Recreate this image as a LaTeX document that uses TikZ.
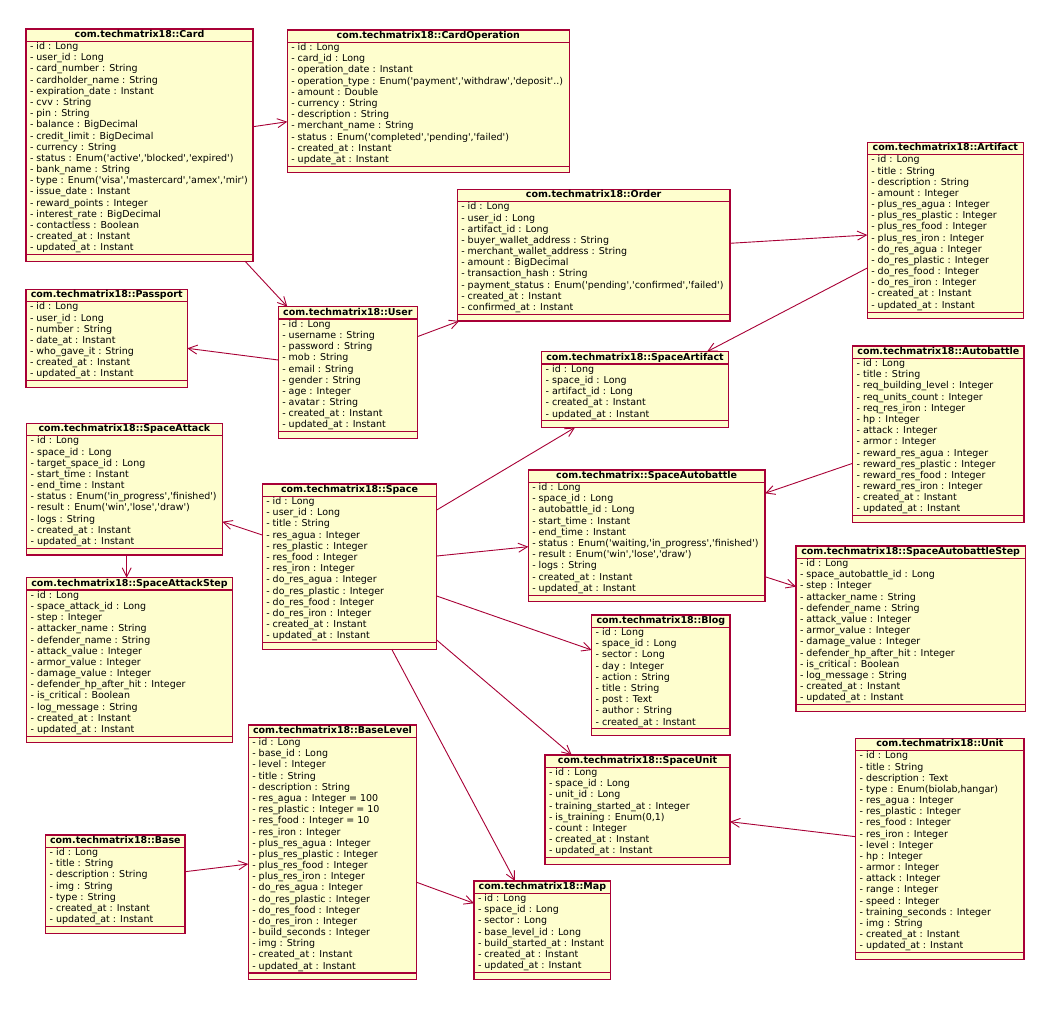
\documentclass[tikz,border=0pt]{standalone}
\usepackage{fontspec}
\setmainfont{DejaVu Sans}[Ligatures=TeXOff]
\usepackage{tikz}
\usetikzlibrary{arrows.meta,calc,shapes.multipart}

\definecolor{umlred}{HTML}{A80036}
\definecolor{umlfill}{HTML}{FEFECE}
\newcommand{\opsrow}{\rule{0pt}{5.5pt}}

\begin{document}
\begin{tikzpicture}[
      x=1pt, y=-1pt,
      umlclass/.style={rectangle split,rectangle split parts=3,rectangle split part align={center,left,left},
        draw=umlred,fill=umlfill,line width=1.1pt,anchor=north west,inner xsep=4pt,inner ysep=0pt,outer sep=0pt,
        align=left,font=\fontsize{9.5}{11.17}\selectfont},
      assoc/.style={draw=umlred,line width=0.9pt,-{Straight Barb[length=9pt,width=9pt]}}
    ]
    \fill[white] (0,0) rectangle (1058,1010);
    \useasboundingbox (0,0) rectangle (1058,1010);

    % classes
    \node[umlclass,minimum width=227pt] (card) at (26,29) {\strut\textbf{com.techmatrix18::Card}
      \nodepart{second}\strut- id : Long\\- user\_id : Long\\- card\_number : String\\- cardholder\_name : String\\
      - expiration\_date : Instant\\- cvv : String\\- pin : String\\- balance : BigDecimal\\
      - credit\_limit : BigDecimal\\- currency : String\\- status : Enum('active','blocked','expired')\\
      - bank\_name : String\\- type : Enum('visa','mastercard','amex','mir')\\- issue\_date : Instant\\
      - reward\_points : Integer\\- interest\_rate : BigDecimal\\- contactless : Boolean\\
      - created\_at : Instant\\- updated\_at : Instant\strut
      \nodepart{third}\opsrow};
    \node[umlclass,minimum width=282pt] (cardop) at (287.3,30) {\strut\textbf{com.techmatrix18::CardOperation}
      \nodepart{second}\strut- id : Long\\- card\_id : Long\\- operation\_date : Instant\\
      - operation\_type : Enum('payment','withdraw','deposit'..)\\- amount : Double\\- currency : String\\
      - description : String\\- merchant\_name : String\\- status : Enum('completed','pending','failed')\\
      - created\_at : Instant\\- update\_at : Instant\strut
      \nodepart{third}\opsrow};
    \node[umlclass,minimum width=272.7pt] (order) at (457.3,189.3) {\strut\textbf{com.techmatrix18::Order}
      \nodepart{second}\strut- id : Long\\- user\_id : Long\\- artifact\_id : Long\\- buyer\_wallet\_address : String\\
      - merchant\_wallet\_address : String\\- amount : BigDecimal\\- transaction\_hash : String\\
      - payment\_status : Enum('pending','confirmed','failed')\\- created\_at : Instant\\- confirmed\_at : Instant\strut
      \nodepart{third}\opsrow};
    \node[umlclass,minimum width=156pt] (artifact) at (867.3,142.3) {\strut\textbf{com.techmatrix18::Artifact}
      \nodepart{second}\strut- id : Long\\- title : String\\- description : String\\- amount : Integer\\
      - plus\_res\_agua : Integer\\- plus\_res\_plastic : Integer\\- plus\_res\_food : Integer\\- plus\_res\_iron : Integer\\
      - do\_res\_agua : Integer\\- do\_res\_plastic : Integer\\- do\_res\_food : Integer\\- do\_res\_iron : Integer\\
      - created\_at : Instant\\- updated\_at : Instant\strut
      \nodepart{third}\opsrow};
    \node[umlclass,minimum width=161.3pt] (passport) at (26,289.3) {\strut\textbf{com.techmatrix18::Passport}
      \nodepart{second}\strut- id : Long\\- user\_id : Long\\- number : String\\- date\_at : Instant\\
      - who\_gave\_it : String\\- created\_at : Instant\\- updated\_at : Instant\strut
      \nodepart{third}\opsrow};
    \node[umlclass,minimum width=139pt] (user) at (278.3,306.7) {\strut\textbf{com.techmatrix18::User}
      \nodepart{second}\strut- id : Long\\- username : String\\- password : String\\- mob : String\\- email : String\\
      - gender : String\\- age : Integer\\- avatar : String\\- created\_at : Instant\\- updated\_at : Instant\strut
      \nodepart{third}\opsrow};
    \node[umlclass,minimum width=195.6pt] (spaceattack) at (26.7,423.3) {\strut\textbf{com.techmatrix18::SpaceAttack}
      \nodepart{second}\strut- id : Long\\- space\_id : Long\\- target\_space\_id : Long\\- start\_time : Instant\\
      - end\_time : Instant\\- status : Enum('in\_progress','finished')\\- result : Enum('win','lose','draw')\\
      - logs : String\\- created\_at : Instant\\- updated\_at : Instant\strut
      \nodepart{third}\opsrow};
    \node[umlclass,minimum width=205.6pt] (spaceattackstep) at (26.7,577.7) {\strut\textbf{com.techmatrix18::SpaceAttackStep}
      \nodepart{second}\strut- id : Long\\- space\_attack\_id : Long\\- step : Integer\\- attacker\_name : String\\
      - defender\_name : String\\- attack\_value : Integer\\- armor\_value : Integer\\- damage\_value : Integer\\
      - defender\_hp\_after\_hit : Integer\\- is\_critical : Boolean\\- log\_message : String\\
      - created\_at : Instant\\- updated\_at : Instant\strut
      \nodepart{third}\opsrow};
    \node[umlclass,minimum width=186.6pt] (spaceartifact) at (541.7,351.7) {\strut\textbf{com.techmatrix18::SpaceArtifact}
      \nodepart{second}\strut- id : Long\\- space\_id : Long\\- artifact\_id : Long\\- created\_at : Instant\\
      - updated\_at : Instant\strut
      \nodepart{third}\opsrow};
    \node[umlclass,minimum width=171.3pt] (autobattle) at (852.7,346) {\strut\textbf{com.techmatrix18::Autobattle}
      \nodepart{second}\strut- id : Long\\- title : String\\- req\_building\_level : Integer\\- req\_units\_count : Integer\\
      - req\_res\_iron : Integer\\- hp : Integer\\- attack : Integer\\- armor : Integer\\- reward\_res\_agua : Integer\\
      - reward\_res\_plastic : Integer\\- reward\_res\_food : Integer\\- reward\_res\_iron : Integer\\
      - created\_at : Instant\\- updated\_at : Instant\strut
      \nodepart{third}\opsrow};
    \node[umlclass,minimum width=236.7pt] (spaceautobattle) at (528.3,470) {\strut\textbf{com.techmatrix::SpaceAutobattle}
      \nodepart{second}\strut- id : Long\\- space\_id : Long\\- autobattle\_id : Long\\- start\_time : Instant\\
      - end\_time : Instant\\- status : Enum('waiting,'in\_progress','finished')\\- result : Enum('win','lose','draw')\\
      - logs : String\\- created\_at : Instant\\- updated\_at : Instant\strut
      \nodepart{third}\opsrow};
    \node[umlclass,minimum width=229.3pt] (spaceautobattlestep) at (796,546) {\strut\textbf{com.techmatrix18::SpaceAutobattleStep}
      \nodepart{second}\strut- id : Long\\- space\_autobattle\_id : Long\\- step : Integer\\- attacker\_name : String\\
      - defender\_name : String\\- attack\_value : Integer\\- armor\_value : Integer\\- damage\_value : Integer\\
      - defender\_hp\_after\_hit : Integer\\- is\_critical : Boolean\\- log\_message : String\\
      - created\_at : Instant\\- updated\_at : Instant\strut
      \nodepart{third}\opsrow};
    \node[umlclass,minimum width=174.4pt] (space) at (262.3,484) {\strut\textbf{com.techmatrix18::Space}
      \nodepart{second}\strut- id : Long\\- user\_id : Long\\- title : String\\- res\_agua : Integer\\
      - res\_plastic : Integer\\- res\_food : Integer\\- res\_iron : Integer\\- do\_res\_agua : Integer\\
      - do\_res\_plastic : Integer\\- do\_res\_food : Integer\\- do\_res\_iron : Integer\\
      - created\_at : Instant\\- updated\_at : Instant\strut
      \nodepart{third}\opsrow};
    \node[umlclass,minimum width=138.3pt] (blog) at (591.7,615) {\strut\textbf{com.techmatrix18::Blog}
      \nodepart{second}\strut- id : Long\\- space\_id : Long\\- sector : Long\\- day : Integer\\- action : String\\
      - title : String\\- post : Text\\- author : String\\- created\_at : Instant\strut
      \nodepart{third}\opsrow};
    \node[umlclass,minimum width=185pt] (spaceunit) at (545,755) {\strut\textbf{com.techmatrix18::SpaceUnit}
      \nodepart{second}\strut- id : Long\\- space\_id : Long\\- unit\_id : Long\\- training\_started\_at : Integer\\
      - is\_training : Enum(0,1)\\- count : Integer\\- created\_at : Instant\\- updated\_at : Instant\strut
      \nodepart{third}\opsrow};
    \node[umlclass,minimum width=136.7pt] (map) at (474,881) {\strut\textbf{com.techmatrix18::Map}
      \nodepart{second}\strut- id : Long\\- space\_id : Long\\- sector : Long\\- base\_level\_id : Long\\
      - build\_started\_at : Instant\\- created\_at : Instant\\- updated\_at : Instant\strut
      \nodepart{third}\opsrow};
    \node[umlclass,minimum width=168.4pt] (baselevel) at (248.3,725) {\strut\textbf{com.techmatrix18::BaseLevel}
      \nodepart{second}\strut- id : Long\\- base\_id : Long\\- level : Integer\\- title : String\\- description : String\\
      - res\_agua : Integer = 100\\- res\_plastic : Integer = 10\\- res\_food : Integer = 10\\- res\_iron : Integer\\
      - plus\_res\_agua : Integer\\- plus\_res\_plastic : Integer\\- plus\_res\_food : Integer\\- plus\_res\_iron : Integer\\
      - do\_res\_agua : Integer\\- do\_res\_plastic : Integer\\- do\_res\_food : Integer\\- do\_res\_iron : Integer\\
      - build\_seconds : Integer\\- img : String\\- created\_at : Instant\\- updated\_at : Instant\strut
      \nodepart{third}\opsrow};
    \node[umlclass,minimum width=139.3pt] (base) at (45.7,835) {\strut\textbf{com.techmatrix18::Base}
      \nodepart{second}\strut- id : Long\\- title : String\\- description : String\\- img : String\\- type : String\\
      - created\_at : Instant\\- updated\_at : Instant\strut
      \nodepart{third}\opsrow};
    \node[umlclass,minimum width=168.3pt] (unit) at (855.7,738.3) {\strut\textbf{com.techmatrix18::Unit}
      \nodepart{second}\strut- id : Long\\- title : String\\- description : Text\\- type : Enum(biolab,hangar)\\
      - res\_agua : Integer\\- res\_plastic : Integer\\- res\_food : Integer\\- res\_iron : Integer\\- level : Integer\\
      - hp : Integer\\- armor : Integer\\- attack : Integer\\- range : Integer\\- speed : Integer\\
      - training\_seconds : Integer\\- img : String\\- created\_at : Instant\\- updated\_at : Instant\strut
      \nodepart{third}\opsrow};

    % associations
    \draw[assoc] ($(card.north east)+(0,97.7)$) -- ($(cardop.north west)+(0,91.7)$);
    \draw[assoc] ($(card.south west)+(219,0)$) -- ($(user.north west)+(9,0)$);
    \draw[assoc] ($(user.north west)+(0,53.3)$) -- ($(passport.north east)+(0,59)$);
    \draw[assoc] ($(user.north east)+(0,30)$) -- ($(order.south west)+(2,0)$);
    \draw[assoc] ($(order.north east)+(0,54)$) -- ($(artifact.north west)+(0,92.7)$);
    \draw[assoc] ($(artifact.north west)+(0,125.7)$) -- ($(spaceartifact.north west)+(165.3,0)$);
    \draw[assoc] ($(space.north east)+(0,26)$) -- ($(spaceartifact.south west)+(33.3,0)$);
    \draw[assoc] ($(autobattle.north west)+(0,117.3)$) -- ($(spaceautobattle.north east)+(0,23.3)$);
    \draw[assoc] ($(space.north east)+(0,72)$) -- ($(spaceautobattle.north west)+(0,76.7)$);
    \draw[assoc] ($(spaceautobattle.north east)+(0,106.7)$) -- ($(spaceautobattlestep.north west)+(0,40.7)$);
    \draw[assoc] ($(space.north west)+(0,51)$) -- ($(spaceattack.north east)+(0,98.4)$);
    \draw[assoc] ($(spaceattack.south west)+(100,0)$) -- ($(spaceattackstep.north west)+(100,0)$);
    \draw[assoc] ($(space.north east)+(0,112)$) -- ($(blog.north west)+(0,35)$);
    \draw[assoc] ($(space.north east)+(0,156)$) -- ($(spaceunit.north west)+(26.7,0)$);
    \draw[assoc] ($(space.south west)+(129.4,0)$) -- ($(map.north west)+(41,0)$);
    \draw[assoc] ($(unit.north west)+(0,98.4)$) -- ($(spaceunit.north east)+(0,66.7)$);
    \draw[assoc] ($(base.north east)+(0,36.7)$) -- ($(baselevel.north west)+(0,139)$);
    \draw[assoc] ($(baselevel.north east)+(0,157.3)$) -- ($(map.north west)+(0,22.3)$);
  \end{tikzpicture}
\end{document}
